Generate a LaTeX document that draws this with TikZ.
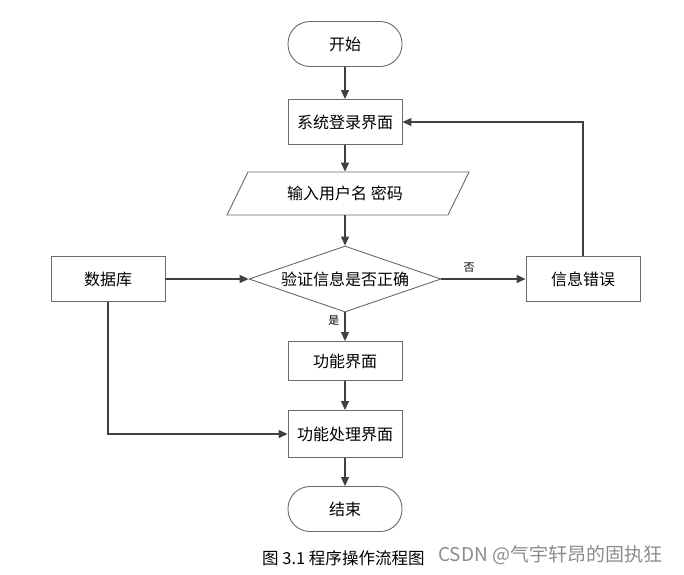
\documentclass[tikz,border=0pt]{standalone}
\usepackage{fontspec}
\newfontfamily\cjk{Noto Sans CJK SC}
\usetikzlibrary{arrows.meta,shapes.geometric,positioning}
\definecolor{linegray}{HTML}{404040}
\definecolor{boxgray}{HTML}{6A6A6A}
\definecolor{markgray}{HTML}{8C8C8C}
\tikzset{
  box/.style={draw=boxgray,line width=0.9pt,fill=white,minimum width=114pt,minimum height=45pt,
    font=\cjk\fontsize{16pt}{18pt}\selectfont},
  term/.style={box,rounded corners=22pt},
  decision/.style={box,diamond,aspect=2.9,inner sep=1pt,minimum width=192pt,minimum height=66pt},
  flow/.style={draw=linegray,line width=1.2pt,-{Triangle[length=9pt,width=8pt]}},
  small/.style={font=\cjk\fontsize{11pt}{12pt}\selectfont,inner sep=2pt}
}
\begin{document}
\begin{tikzpicture}[x=1pt,y=-1pt]
\useasboundingbox (0,0) rectangle (684,574);
\node[term] (start) at (345,44) {开始};
\node[box] (login) at (345,122) {系统登录界面};
\draw[boxgray,line width=0.9pt] (248,172) -- (469,172) -- (448,215) -- (227,215) -- cycle;
\node[box,draw=none,fill=none,minimum height=43pt] (input) at (345,193.5) {输入用户名 密码};
\node[decision] (check) at (345,279) {验证信息是否正确};
\node[box] (db) at (108,279) {数据库};
\node[box] (err) at (583,279) {信息错误};
\node[box,minimum height=39pt] (func) at (345,361) {功能界面};
\node[box,minimum height=47pt] (proc) at (345,434) {功能处理界面};
\node[term] (end) at (345,509) {结束};
% connectors
\draw[flow] (start) -- (login);
\draw[flow] (login) -- (input);
\draw[flow] (input) -- (check);
\draw[flow] (db) -- (check);
\draw[flow] (check) -- node[small,pos=0.33,above=4pt] {否} (err);
\draw[flow] (check) -- node[small,pos=0.3,left=3pt] {是} (func);
\draw[flow] (err) |- (login);
\draw[flow] (db) |- (proc);
\draw[flow] (func) -- (proc);
\draw[flow] (proc) -- (end);
% caption
\node[font=\cjk\fontsize{16.5pt}{18pt}\selectfont,anchor=west,inner sep=0pt] (caption) at (262,558) {图 3.1 程序操作流程图};
\node[font=\cjk\fontsize{19pt}{20pt}\selectfont,text=markgray,anchor=west,inner sep=0pt] (mark) at (438,555) {CSDN @气宇轩昂的固执狂};
\end{tikzpicture}
\end{document}
